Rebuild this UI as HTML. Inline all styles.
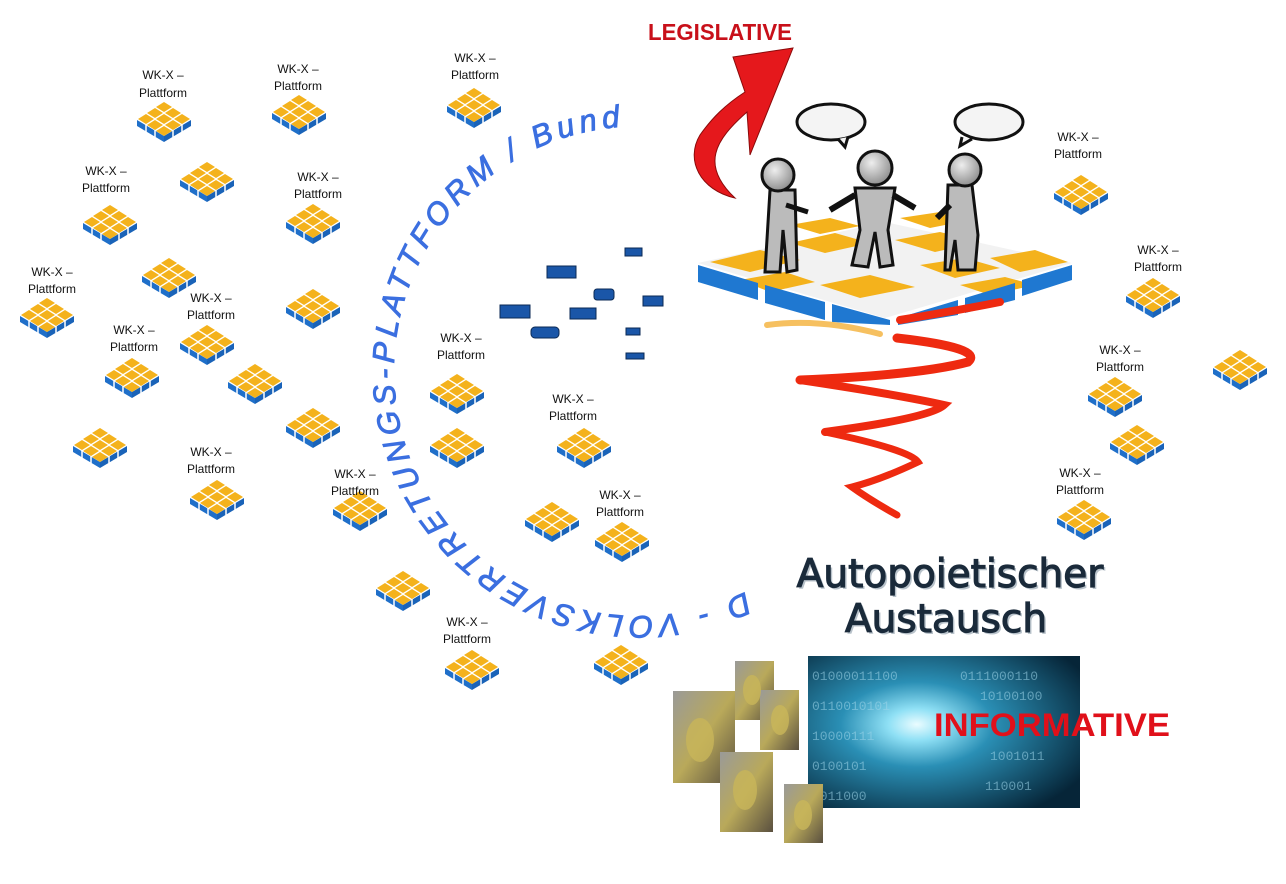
<!DOCTYPE html>
<html><head><meta charset="utf-8"><style>
html,body{margin:0;padding:0;background:#fff;width:1286px;height:884px;overflow:hidden}
svg{display:block}
.l{font-family:"Liberation Sans",sans-serif;font-size:12px;fill:#111;text-anchor:middle}
</style></head><body>
<svg width="1286" height="884" viewBox="0 0 1286 884" xmlns="http://www.w3.org/2000/svg">
<defs>
<g id="p">
 <polygon points="0,18 27,34 27,40 0,24" fill="#1f6fc9"/>
 <polygon points="27,34 54,18 54,24 27,40" fill="#1a63b8"/>
 <g fill="#f4b21c">
  <polygon points="27,0 35,5 27,10 19,5"/><polygon points="36,6 44,11 36,16 28,11"/><polygon points="45,12 53,17 45,22 37,17"/>
  <polygon points="18,6 26,11 18,16 10,11"/><polygon points="27,12 35,17 27,22 19,17"/><polygon points="36,18 44,23 36,28 28,23"/>
  <polygon points="9,12 17,17 9,22 1,17"/><polygon points="18,18 26,23 18,28 10,23"/><polygon points="27,24 35,29 27,34 19,29"/>
 </g>
 <g stroke="#fff" stroke-width="1.5"><line x1="9" y1="23" x2="9" y2="30"/><line x1="18" y1="28" x2="18" y2="35"/><line x1="36" y1="28" x2="36" y2="35"/><line x1="45" y1="23" x2="45" y2="30"/></g>
</g>
<radialGradient id="tun" cx="0.4" cy="0.45" r="0.7">
 <stop offset="0" stop-color="#eafcff"/><stop offset="0.15" stop-color="#8fe0f5"/><stop offset="0.4" stop-color="#2a8fb5"/><stop offset="1" stop-color="#062538"/>
</radialGradient>
<linearGradient id="gold" x1="0" y1="0" x2="1" y2="1"><stop offset="0" stop-color="#9a9a98"/><stop offset="0.5" stop-color="#b9a95a"/><stop offset="1" stop-color="#5a5040"/></linearGradient>
<radialGradient id="head" cx="0.4" cy="0.35" r="0.7"><stop offset="0" stop-color="#eee"/><stop offset="1" stop-color="#888"/></radialGradient>
</defs>

<g>
<use href="#p" x="137" y="102"/><use href="#p" x="272" y="95"/><use href="#p" x="447" y="88"/>
<use href="#p" x="83" y="205"/><use href="#p" x="180" y="162"/><use href="#p" x="286" y="204"/>
<use href="#p" x="20" y="298"/><use href="#p" x="142" y="258"/><use href="#p" x="180" y="325"/>
<use href="#p" x="286" y="289"/><use href="#p" x="105" y="358"/><use href="#p" x="228" y="364"/>
<use href="#p" x="73" y="428"/><use href="#p" x="286" y="408"/><use href="#p" x="190" y="480"/>
<use href="#p" x="333" y="491"/><use href="#p" x="430" y="374"/><use href="#p" x="430" y="428"/>
<use href="#p" x="557" y="428"/><use href="#p" x="595" y="522"/><use href="#p" x="525" y="502"/>
<use href="#p" x="376" y="571"/><use href="#p" x="445" y="650"/><use href="#p" x="594" y="645"/>
<use href="#p" x="1054" y="175"/><use href="#p" x="1126" y="278"/><use href="#p" x="1088" y="377"/>
<use href="#p" x="1213" y="350"/><use href="#p" x="1110" y="425"/><use href="#p" x="1057" y="500"/>
</g>
<g class="l">
<text x="163" y="79" class="l">WK-X –</text><text x="163" y="97" class="l">Plattform</text>
<text x="298" y="73" class="l">WK-X –</text><text x="298" y="90" class="l">Plattform</text>
<text x="475" y="62" class="l">WK-X –</text><text x="475" y="79" class="l">Plattform</text>
<text x="106" y="175" class="l">WK-X –</text><text x="106" y="192" class="l">Plattform</text>
<text x="318" y="181" class="l">WK-X –</text><text x="318" y="198" class="l">Plattform</text>
<text x="52" y="276" class="l">WK-X –</text><text x="52" y="293" class="l">Plattform</text>
<text x="211" y="302" class="l">WK-X –</text><text x="211" y="319" class="l">Plattform</text>
<text x="134" y="334" class="l">WK-X –</text><text x="134" y="351" class="l">Plattform</text>
<text x="211" y="456" class="l">WK-X –</text><text x="211" y="473" class="l">Plattform</text>
<text x="355" y="478" class="l">WK-X –</text><text x="355" y="479" class="l" dy="16">Plattform</text>
<text x="461" y="342" class="l">WK-X –</text><text x="461" y="359" class="l">Plattform</text>
<text x="573" y="403" class="l">WK-X –</text><text x="573" y="420" class="l">Plattform</text>
<text x="620" y="499" class="l">WK-X –</text><text x="620" y="516" class="l">Plattform</text>
<text x="467" y="626" class="l">WK-X –</text><text x="467" y="643" class="l">Plattform</text>
<text x="1078" y="141" class="l">WK-X –</text><text x="1078" y="158" class="l">Plattform</text>
<text x="1158" y="254" class="l">WK-X –</text><text x="1158" y="271" class="l">Plattform</text>
<text x="1120" y="354" class="l">WK-X –</text><text x="1120" y="371" class="l">Plattform</text>
<text x="1080" y="477" class="l">WK-X –</text><text x="1080" y="494" class="l">Plattform</text>
</g>

<path id="arc" d="M 745 592 A 245 245 0 1 1 660 127" fill="none"/>
<text font-family="Liberation Sans,sans-serif" font-size="31" font-style="italic" fill="#3b6fe0" stroke="#3b6fe0" stroke-width="0.9"><textPath href="#arc" textLength="860" lengthAdjust="spacing">D - VOLKSVERTRETUNGS-PLATTFORM / Bund</textPath></text>

<g fill="#1a56a8" stroke="#0b2a55" stroke-width="1">
<rect x="547" y="266" width="29" height="12"/><rect x="625" y="248" width="17" height="8"/>
<rect x="594" y="289" width="20" height="11" rx="3"/><rect x="643" y="296" width="20" height="10"/>
<rect x="500" y="305" width="30" height="13"/><rect x="570" y="308" width="26" height="11"/>
<rect x="531" y="327" width="28" height="11" rx="4"/><rect x="626" y="328" width="14" height="7"/>
<rect x="626" y="353" width="18" height="6"/>
</g>

<text x="720" y="40" font-family="Liberation Sans,sans-serif" font-weight="bold" font-size="23" fill="#c8101a" text-anchor="middle" textLength="144" lengthAdjust="spacingAndGlyphs">LEGISLATIVE</text>
<path d="M733,57 L793,48 L750,155 L747,112 C715,140 700,165 735,198 C700,190 685,160 700,135 C712,118 725,105 745,92 Z" fill="#e5181c" stroke="#8a0a0a" stroke-width="1"/>

<polygon points="698,263 885,222 1072,263 885,318" fill="#f2f2f2"/>
<g fill="#f4b21c">
<polygon points="710,262 760,250 800,260 750,272"/><polygon points="790,243 835,233 870,243 825,253"/>
<polygon points="895,240 940,232 980,242 935,252"/><polygon points="990,258 1035,250 1068,262 1020,272"/>
<polygon points="820,285 870,275 915,287 860,298"/><polygon points="920,265 965,258 1000,268 955,278"/>
<polygon points="790,225 830,218 860,226 820,234"/><polygon points="900,218 940,212 970,220 930,228"/>
<polygon points="740,280 785,272 815,282 770,292"/><polygon points="960,285 1005,277 1035,285 990,295"/>
</g>
<g fill="#1f78d1">
<polygon points="698,265 758,283 758,300 698,282"/><polygon points="765,285 825,302 825,320 765,303"/>
<polygon points="832,304 890,320 890,325 832,322"/><polygon points="898,318 958,300 958,315 898,325"/>
<polygon points="965,298 1015,283 1015,300 965,313"/><polygon points="1022,280 1072,265 1072,280 1022,296"/>
</g>

<g stroke="#111" stroke-width="3" fill="#bbb">
 <path d="M770,190 L795,190 L797,270 L787,272 L783,230 L780,272 L765,272 Z"/>
 <path d="M786,205 L808,212" fill="none" stroke-width="5"/>
 <circle cx="778" cy="175" r="16" fill="url(#head)"/>
 <path d="M855,188 L895,188 L888,230 L893,265 L880,267 L875,232 L868,267 L852,265 L860,230 Z"/>
 <path d="M855,195 L830,210 M893,195 L915,208" fill="none" stroke-width="6"/>
 <circle cx="875" cy="168" r="17" fill="url(#head)"/>
 <path d="M948,185 L972,185 L978,235 L975,270 L958,270 L955,240 L950,270 L945,270 Z"/>
 <path d="M950,205 L937,218" fill="none" stroke-width="6"/>
 <circle cx="965" cy="170" r="16" fill="url(#head)"/>
</g>
<g fill="#f4f4f4" stroke="#111" stroke-width="3">
 <ellipse cx="831" cy="122" rx="34" ry="18"/><path d="M838,139 L845,147 L848,137" />
 <ellipse cx="989" cy="122" rx="34" ry="18"/><path d="M962,137 L960,146 L972,139"/>
</g>

<g fill="none" stroke="#ee2a10" stroke-linecap="round">
<path d="M767,325 Q820,318 880,334" stroke="#f6c060" stroke-width="6"/>
<path d="M897,338 Q985,348 968,362 Q920,375 800,380" stroke-width="9"/>
<path d="M800,380 Q900,395 944,405 Q930,418 825,432" stroke-width="8"/>
<path d="M825,432 Q910,450 918,462 Q880,480 852,487 Q870,500 897,515" stroke-width="7"/>
<path d="M900,320 Q960,310 1000,302" stroke-width="8"/>
</g>

<g font-family="DejaVu Sans,Liberation Sans,sans-serif" font-size="39" text-anchor="middle">
<text x="950" y="587" fill="#8a9aa8" opacity="0.6" transform="translate(2,2)">Autopoietischer</text>
<text x="950" y="587" fill="#1a2a3a" stroke="#1a2a3a" stroke-width="1.2">Autopoietischer</text>
<text x="946" y="632" fill="#8a9aa8" opacity="0.6" transform="translate(2,2)">Austausch</text>
<text x="946" y="632" fill="#1a2a3a" stroke="#1a2a3a" stroke-width="1.2">Austausch</text>
</g>

<rect x="808" y="656" width="272" height="152" fill="url(#tun)"/>
<g font-family="Liberation Mono,monospace" font-size="13" fill="#9fd6ea" opacity="0.55">
<text x="812" y="680">01000011100</text><text x="812" y="710">0110010101</text><text x="812" y="740">10000111</text><text x="812" y="770">0100101</text><text x="812" y="800">1011000</text>
<text x="960" y="680">0111000110</text><text x="980" y="700">10100100</text><text x="990" y="760">1001011</text><text x="985" y="790">110001</text>
</g>
<text x="1052" y="736" font-family="Liberation Sans,sans-serif" font-weight="bold" font-size="32" fill="#e0101a" text-anchor="middle" textLength="236" lengthAdjust="spacingAndGlyphs">INFORMATIVE</text>

<g fill="url(#gold)">
<rect x="673" y="691" width="62" height="92"/><rect x="735" y="661" width="39" height="59"/>
<rect x="760" y="690" width="39" height="60"/><rect x="720" y="752" width="53" height="80"/>
<rect x="784" y="784" width="39" height="59"/>
</g>
<g fill="#c9b65a" opacity="0.8">
<ellipse cx="700" cy="740" rx="14" ry="22"/><ellipse cx="752" cy="690" rx="9" ry="15"/><ellipse cx="780" cy="720" rx="9" ry="15"/><ellipse cx="745" cy="790" rx="12" ry="20"/><ellipse cx="803" cy="815" rx="9" ry="15"/>
</g>
</svg>
</body></html>
